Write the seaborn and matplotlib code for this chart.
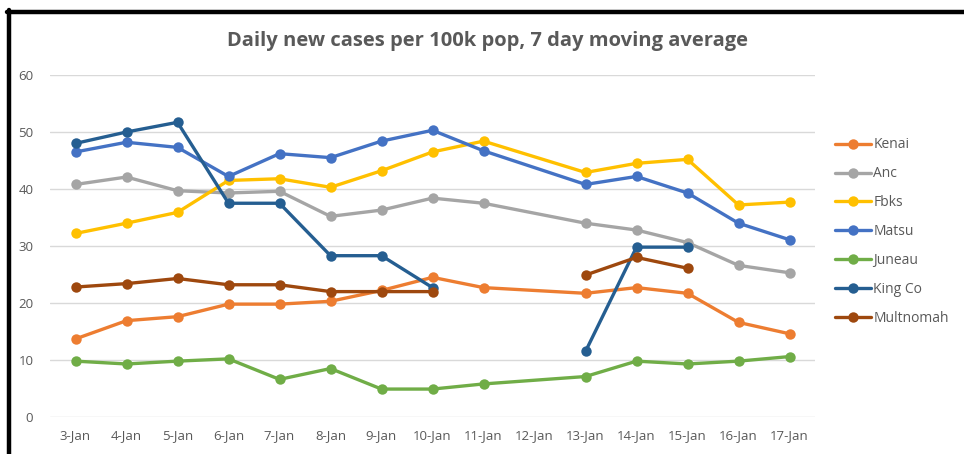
import numpy as np
import pandas as pd
import matplotlib
matplotlib.use("Agg")
import matplotlib.pyplot as plt
from matplotlib.lines import Line2D
import seaborn as sns

# dados (NaN = sem valor)
dias = ['3-Jan', '4-Jan', '5-Jan', '6-Jan', '7-Jan', '8-Jan', '9-Jan', '10-Jan',
        '11-Jan', '12-Jan', '13-Jan', '14-Jan', '15-Jan', '16-Jan', '17-Jan']
nan = np.nan
kenai = [13.7, 16.9, 17.6, 19.8, 19.8, 20.3, 22.2, 24.5, 22.7, nan, 21.7, 22.7, 21.7, 16.6, 14.6]
anc = [40.8, 42.1, 39.7, 39.3, 39.6, 35.2, 36.3, 38.4, 37.5, nan, 34.0, 32.8, 30.6, 26.6, 25.3]
fbks = [32.2, 34.0, 35.9, 41.5, 41.8, 40.3, 43.2, 46.5, 48.4, nan, 42.9, 44.5, 45.2, 37.2, 37.7]
matsu = [46.5, 48.2, 47.3, 42.2, 46.2, 45.5, 48.4, 50.3, 46.7, nan, 40.8, 42.2, 39.3, 34.0, 31.1]
juneau = [9.8, 9.3, 9.8, 10.2, 6.6, 8.5, 4.9, 4.9, 5.8, nan, 7.1, 9.8, 9.3, 9.8, 10.6]
king_co = [48.0, 50.0, 51.7, 37.5, 37.5, 28.3, 28.3, 22.7, nan, nan, 11.5, 29.8, 29.8, nan, nan]
multnomah = [22.8, 23.4, 24.3, 23.2, 23.2, 22.0, 22.0, 22.0, nan, nan, 24.9, 28.0, 26.1, nan, nan]

series = {'Kenai': kenai, 'Anc': anc, 'Fbks': fbks, 'Matsu': matsu,
          'Juneau': juneau, 'King Co': king_co, 'Multnomah': multnomah}
cores = {'Kenai': '#ED7D31', 'Anc': '#A5A5A5', 'Fbks': '#FFC000', 'Matsu': '#4472C4',
         'Juneau': '#70AD47', 'King Co': '#255E91', 'Multnomah': '#9E480E'}
# estas duas series tem intervalo sem linha
com_quebra = ['King Co', 'Multnomah']

linhas = []
for nome, vals in series.items():
    seg = 0
    for i, v in enumerate(vals):
        if np.isnan(v):
            if nome in com_quebra:
                seg += 1
            continue
        linhas.append({'pos': i, 'valor': v, 'serie': nome, 'seg': seg})
df = pd.DataFrame(linhas)

sns.set_style('white')
plt.rcParams['font.family'] = ['Open Sans', 'DejaVu Sans']
cinza = '#595959'

fig = plt.figure(figsize=(9.64, 4.54), dpi=100)
ax = fig.add_axes([50 / 964, 37 / 454, 765 / 964, 342 / 454])

sns.lineplot(data=df, x='pos', y='valor', hue='serie', units='seg', estimator=None,
             palette=cores, hue_order=list(series.keys()), marker='o', markersize=7.5,
             markeredgewidth=0, linewidth=2.4, legend=False, ax=ax, zorder=3)

ax.set_xlim(-0.5, len(dias) - 0.5)
ax.set_ylim(0, 60)
ax.set_xticks(range(len(dias)))
ax.set_xticklabels(dias)
ax.set_yticks(range(0, 61, 10))
ax.set_xlabel('')
ax.set_ylabel('')
ax.grid(axis='y', color='#D9D9D9', linewidth=1)
ax.grid(axis='x', visible=False)
for s in ax.spines.values():
    s.set_visible(False)
ax.tick_params(axis='both', length=0, colors=cinza, labelsize=9.5)
ax.tick_params(axis='y', pad=12)
ax.tick_params(axis='x', pad=9)

fig.text(0.506, 1 - 41 / 454, 'Daily new cases per 100k pop, 7 day moving average',
         ha='center', va='center', fontsize=14.5, fontweight='bold', color=cinza)

handles = [Line2D([0], [0], color=cores[n], linewidth=2.4, marker='o', markersize=7.5,
                  markeredgewidth=0) for n in series]
fig.legend(handles, list(series.keys()), loc='upper left', bbox_to_anchor=(822 / 964, 1 - 125 / 454),
           frameon=False, fontsize=10, labelcolor=cinza, handlelength=2.6,
           handletextpad=0.2, labelspacing=1.0)

# moldura preta (topo e esquerda)
fig.add_artist(Line2D([7 / 964, 1], [1 - 12 / 454, 1 - 12 / 454], color='black', linewidth=3.2,
                      transform=fig.transFigure))
fig.add_artist(Line2D([9 / 964, 9 / 964], [0, 1 - 10 / 454], color='black', linewidth=3.2,
                      transform=fig.transFigure))

fig.savefig('out.png', dpi=100)
